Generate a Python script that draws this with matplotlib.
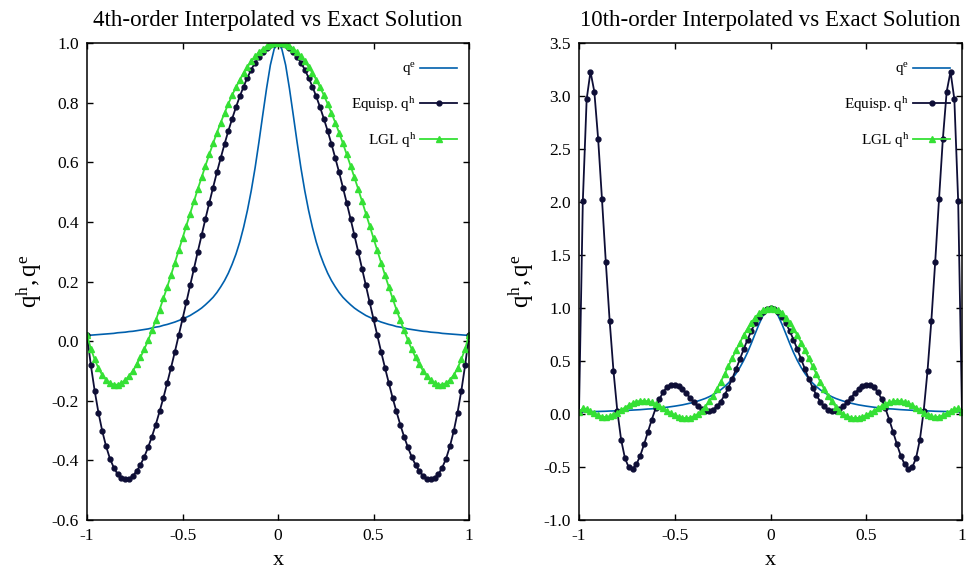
import numpy as np
import matplotlib
matplotlib.use("Agg")
import matplotlib.pyplot as plt

plt.rcParams['font.family'] = ['Liberation Serif', 'DejaVu Serif']
plt.rcParams['mathtext.fontset'] = 'custom'
plt.rcParams['mathtext.rm'] = 'Liberation Serif'
plt.rcParams['mathtext.it'] = 'Liberation Serif:italic'

# sample points x = -1 ... 1, step 0.02 (101 points)
x = np.linspace(-1, 1, 101)

# all values below are in thousandths, read at each sample point
qe = [20, 20, 21, 22, 23, 24, 25, 26, 28, 29,
      30, 32, 33, 35, 37, 39, 41, 44, 47, 49,
      53, 56, 60, 64, 69, 74, 80, 86, 94, 102,
      111, 122, 134, 147, 163, 182, 203, 228, 258, 292,
      333, 382, 439, 505, 581, 667, 758, 847, 926, 980,
      1000,
      980, 926, 847, 758, 667, 581, 505, 439, 382, 333,
      292, 258, 228, 203, 182, 163, 147, 134, 122, 111,
      102, 94, 86, 80, 74, 69, 64, 60, 56, 53,
      49, 47, 44, 41, 39, 37, 35, 33, 32, 30,
      29, 28, 26, 25, 24, 23, 22, 21, 20, 20]

# 4th order, equispaced nodes
eq4 = [20, -80, -166, -240, -302, -353, -394, -424, -446, -459,
       -464, -462, -452, -436, -415, -388, -356, -320, -280, -236,
       -190, -140, -89, -36, 19, 74, 130, 187, 243, 300,
       355, 410, 463, 515, 566, 614, 661, 705, 746, 785,
       821, 854, 884, 911, 934, 954, 971, 983, 993, 998,
       1000,
       998, 993, 983, 971, 954, 934, 911, 884, 854, 821,
       785, 746, 705, 661, 614, 566, 515, 463, 410, 355,
       300, 243, 187, 130, 74, 19, -36, -89, -140, -190,
       -236, -280, -320, -356, -388, -415, -436, -452, -462, -464,
       -459, -446, -424, -394, -353, -302, -240, -166, -80, 20]

# 4th order, LGL nodes
lg4 = [20, -25, -61, -91, -114, -130, -141, -146, -146, -141,
       -131, -117, -100, -78, -54, -27, 3, 36, 70, 106,
       143, 182, 222, 263, 304, 345, 387, 428, 469, 510,
       549, 588, 626, 663, 699, 733, 765, 796, 825, 852,
       877, 900, 920, 939, 955, 969, 980, 989, 995, 999,
       1000,
       999, 995, 989, 980, 969, 955, 939, 920, 900, 877,
       852, 825, 796, 765, 733, 699, 663, 626, 588, 549,
       510, 469, 428, 387, 345, 304, 263, 222, 182, 143,
       106, 70, 36, 3, -27, -54, -78, -100, -117, -131,
       -141, -146, -146, -141, -130, -114, -91, -61, -25, 20]

# 10th order, equispaced nodes
eq10 = [20, 2010, 2970, 3230, 3041, 2594, 2026, 1433, 881, 407,
        30, -243, -417, -504, -517, -474, -392, -285, -168, -53,
        53, 141, 209, 254, 276, 278, 262, 233, 195, 153,
        111, 74, 46, 30, 28, 42, 72, 117, 177, 250,
        333, 423, 517, 611, 702, 785, 858, 918, 963, 991,
        1000,
        991, 963, 918, 858, 785, 702, 611, 517, 423, 333,
        250, 177, 117, 72, 42, 28, 30, 46, 74, 111,
        153, 195, 233, 262, 278, 276, 254, 209, 141, 53,
        -53, -168, -285, -392, -474, -517, -504, -417, -243, 30,
        407, 881, 1433, 2026, 2594, 3041, 3230, 2970, 2010, 20]

# 10th order, LGL nodes
lg10 = [20, 52, 49, 29, 6, -14, -26, -28, -21, -7,
        14, 37, 61, 83, 102, 116, 124, 125, 120, 110,
        94, 75, 53, 31, 9, -10, -26, -36, -39, -34,
        -22, 0, 31, 70, 118, 173, 236, 304, 376, 450,
        526, 601, 674, 743, 806, 862, 910, 949, 977, 994,
        1000,
        994, 977, 949, 910, 862, 806, 743, 674, 601, 526,
        450, 376, 304, 236, 173, 118, 70, 31, 0, -22,
        -34, -39, -36, -26, -10, 9, 31, 53, 75, 94,
        110, 120, 125, 124, 116, 102, 83, 61, 37, 14,
        -7, -21, -28, -26, -14, 6, 29, 49, 52, 20]

qe = np.array(qe) / 1000.0
eq4 = np.array(eq4) / 1000.0
lg4 = np.array(lg4) / 1000.0
eq10 = np.array(eq10) / 1000.0
lg10 = np.array(lg10) / 1000.0

c_exact = '#0060ad'
c_equi = '#0e0e36'
c_lgl = '#35e035'

fig = plt.figure(figsize=(9.75, 5.71), dpi=100)
ax1 = fig.add_axes([87/975, 51/571, 382/975, 477/571])
ax2 = fig.add_axes([579/975, 51/571, 383/975, 477/571])

panels = [
    (ax1, eq4, lg4, "4th-order Interpolated vs Exact Solution", (-0.6, 1.0), np.arange(-0.6, 1.01, 0.2)),
    (ax2, eq10, lg10, "10th-order Interpolated vs Exact Solution", (-1.0, 3.5), np.arange(-1.0, 3.51, 0.5)),
]

for ax, eq, lg, title, ylim, yt in panels:
    ax.plot(x, qe, color=c_exact, lw=1.2, label=r'$\mathregular{q^e}$')
    ax.plot(x, eq, color=c_equi, lw=1.3, marker='o', ms=3.5, label=r'Equisp. $\mathregular{q^h}$')
    ax.plot(x, lg, color=c_lgl, lw=1.3, marker='^', ms=4.8, label=r'LGL $\mathregular{q^h}$')
    ax.set_xlim(-1, 1)
    ax.set_ylim(*ylim)
    ax.set_xticks([-1, -0.5, 0, 0.5, 1])
    ax.set_xticklabels(['-1', '-0.5', '0', '0.5', '1'])
    ax.set_yticks(yt)
    ax.set_yticklabels(['%.1f' % v for v in yt])
    ax.tick_params(direction='in', top=True, right=True, length=4.5, width=1, labelsize=12.5, pad=6)
    for s in ax.spines.values():
        s.set_linewidth(1.1)
    ax.set_title(title, fontsize=16.5, pad=12)
    ax.set_xlabel('x', fontsize=16, labelpad=5)
    ax.set_ylabel(r'$\mathregular{q^h, q^e}$', fontsize=18, labelpad=5)
    ax.legend(loc='upper right', bbox_to_anchor=(1 - 6/382, 1 - 12/477), borderaxespad=0,
              frameon=False, markerfirst=False, numpoints=1, fontsize=11,
              handlelength=2.4, handletextpad=0.25, labelspacing=1.1)

fig.savefig('out.png', dpi=100)
